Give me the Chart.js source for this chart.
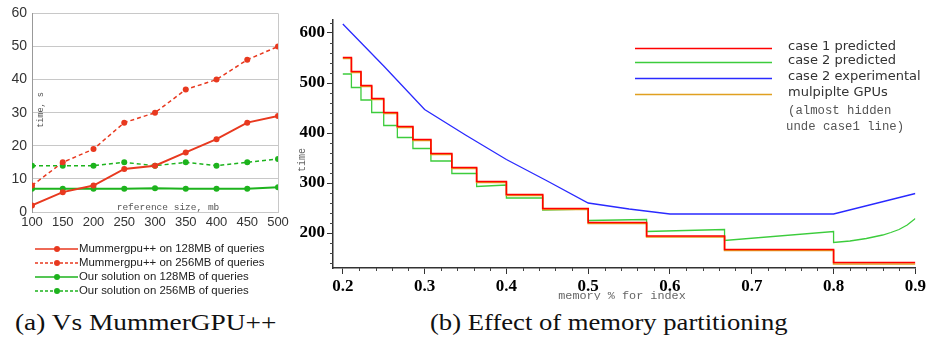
<!DOCTYPE html>
<html>
<head>
<meta charset="utf-8">
<script src="https://cdn.jsdelivr.net/npm/chart.js@4.4.0/dist/chart.umd.min.js"></script>
<style>
  body { margin: 0; background: #fff; width: 928px; height: 343px; position: relative; overflow: hidden; }
  canvas { position: absolute; top: 0; }
  #chartA { left: 0; }
  #chartB { left: 290px; }
  .caption { position: absolute; font-family: "Liberation Serif", "DejaVu Serif", serif; font-size: 24px; color: #111; white-space: nowrap; transform-origin: left top; }
  #capA { left: 15px; top: 309px; transform: scaleX(1.14); }
  #capB { left: 430px; top: 309px; transform: scaleX(1.11); }
</style>
</head>
<body>
<canvas id="chartA" width="300" height="300"></canvas>
<canvas id="chartB" width="638" height="300"></canvas>
<div class="caption" id="capA">(a) Vs MummerGPU++</div>
<div class="caption" id="capB">(b) Effect of memory partitioning</div>
<script>
// (a) reference size vs time
const refSizes = [100, 150, 200, 250, 300, 350, 400, 450, 500];
const mummer128 = [2, 6, 8, 13, 14, 18, 22, 27, 29];
const mummer256 = [8, 15, 19, 27, 30, 37, 40, 46, 50];
const ours128 = [7, 7, 7, 7, 7.2, 7, 7, 7, 7.5];
const ours256 = [14, 14, 14, 15, 14, 15, 14, 15, 16];
const seriesNamesA = [
    'Mummergpu++ on 128MB of queries',
    'Mummergpu++ on 256MB of queries',
    'Our solution on 128MB of queries',
    'Our solution on 256MB of queries'
];

// (b) memory partitioning: step edges and levels
const stepEdges = [0.2, 0.2105, 0.2222, 0.2353, 0.25, 0.2667, 0.2857, 0.3077, 0.3333,
    0.3636, 0.4, 0.4444, 0.5, 0.5714, 0.6667, 0.8, 0.9];
const case1Levels = [551, 523, 495, 469, 441, 413, 387, 359, 331, 303, 277, 249, 221, 194, 167, 141];
const gpuLevels = [549, 521, 493, 467, 439, 411, 385, 357, 329, 301, 275, 247, 219, 192, 165, 138];
const case2Start = [518, 491, 466, 441, 415, 391, 369, 344, 319, 293, 270, 246, 225, 203, 185];
const case2End = [518, 491, 466, 441, 415, 391, 369, 344, 319, 296, 270, 248, 227, 207, 203];
const case2TailX = [0.8, 0.82, 0.84, 0.86, 0.87, 0.88, 0.89, 0.9];
const case2TailY = [181, 184, 189, 196, 201, 207, 216, 229];
const expX = [0.2, 0.25, 0.3, 0.35, 0.4, 0.45, 0.5, 0.55, 0.6, 0.7, 0.8, 0.9];
const expY = [618, 534, 447, 396, 347, 304, 260, 248, 238, 238, 238, 279];
const seriesNamesB = ['case 1 predicted', 'case 2 predicted', 'case 2 experimental', 'mulpiplte GPUs'];

const RED_A = '#e8391f';
const GREEN_A = '#1db31d';
const RED_B = '#ff0000';
const GREEN_B = '#3ccc3c';
const BLUE_B = '#2a2aff';
const ORANGE_B = '#e0a020';

const toPts = (xs, ys) => xs.map((x, i) => ({ x: x, y: ys[i] }));

function lineA(label, values, color, dashed) {
    return {
        label: label,
        data: toPts(refSizes, values),
        borderColor: color,
        backgroundColor: color,
        borderWidth: dashed ? 1.5 : 2,
        borderDash: dashed ? [4, 3] : [],
        pointRadius: 3,
        pointBorderWidth: 0,
        pointBackgroundColor: color
    };
}

const datasetsA = [
    lineA(seriesNamesA[0], mummer128, RED_A, false),
    lineA(seriesNamesA[1], mummer256, RED_A, true),
    lineA(seriesNamesA[2], ours128, GREEN_A, false),
    lineA(seriesNamesA[3], ours256, GREEN_A, true)
];

const extrasA = {
    id: 'extrasA',
    afterDraw(chart) {
        const ctx = chart.ctx;
        ctx.save();
        ctx.fillStyle = '#555';
        ctx.textAlign = 'center';
        ctx.textBaseline = 'middle';
        ctx.font = '9.5px "Liberation Mono", monospace';
        ctx.fillText('reference size, mb', 168, 207);
        ctx.save();
        ctx.translate(41, 110);
        ctx.rotate(-Math.PI / 2);
        ctx.font = '8.5px "Liberation Mono", monospace';
        ctx.fillText('time, s', 0, 0);
        ctx.restore();

        // legend under the plot
        const rows = [249, 263, 277, 291];
        chart.data.datasets.forEach((ds, i) => {
            const y = rows[i];
            ctx.strokeStyle = ds.borderColor;
            ctx.lineWidth = 1.5;
            ctx.setLineDash(ds.borderDash.length ? [3, 2] : []);
            ctx.beginPath();
            ctx.moveTo(35, y);
            ctx.lineTo(78, y);
            ctx.stroke();
            ctx.setLineDash([]);
            ctx.fillStyle = ds.borderColor;
            ctx.beginPath();
            ctx.arc(57, y, 3, 0, Math.PI * 2);
            ctx.fill();
            ctx.fillStyle = '#222';
            ctx.textAlign = 'left';
            ctx.font = '11.4px "Liberation Sans", Arial, sans-serif';
            ctx.fillText(ds.label, 79, y);
        });
        ctx.restore();
    }
};

new Chart(document.getElementById('chartA'), {
    type: 'line',
    data: { datasets: datasetsA },
    options: {
        responsive: false,
        animation: false,
        layout: { padding: { top: 10, right: 22, left: 0, bottom: 0 } },
        plugins: { legend: { display: false }, tooltip: { enabled: false } },
        scales: {
            x: {
                type: 'linear',
                min: 100,
                max: 500,
                ticks: { stepSize: 50, color: '#333', padding: 3, font: { family: 'Liberation Sans', size: 13 } },
                grid: {
                    drawTicks: false,
                    color: (c) => (c.tick && c.tick.value === 500 ? '#c8c8c8' : 'rgba(0,0,0,0)')
                },
                border: { color: '#c8c8c8' },
                afterFit: (scale) => { scale.height = 88; }
            },
            y: {
                min: 0,
                max: 60,
                ticks: { stepSize: 10, color: '#333', padding: 5, font: { family: 'Liberation Sans', size: 14 } },
                grid: { drawTicks: false, color: '#c8c8c8' },
                border: { color: '#999' },
                afterFit: (scale) => { scale.width = 32; }
            }
        }
    },
    plugins: [extrasA]
});

// (b) build the stepped series from edges and levels
const case1Pts = toPts(stepEdges, case1Levels.concat([case1Levels[case1Levels.length - 1]]));
const gpuPts = toPts(stepEdges, gpuLevels.concat([gpuLevels[gpuLevels.length - 1]]));
const case2Pts = [];
case2Start.forEach((v, i) => {
    case2Pts.push({ x: stepEdges[i], y: v });
    case2Pts.push({ x: stepEdges[i + 1], y: case2End[i] });
});
toPts(case2TailX, case2TailY).forEach(p => case2Pts.push(p));

function lineB(label, pts, color, width, stepped) {
    return {
        label: label,
        data: pts,
        borderColor: color,
        backgroundColor: color,
        borderWidth: width,
        pointRadius: 0,
        stepped: stepped,
        tension: 0
    };
}

const datasetsB = [
    lineB(seriesNamesB[0], case1Pts, RED_B, 1.6, true),
    lineB(seriesNamesB[3], gpuPts, ORANGE_B, 1.6, true),
    lineB(seriesNamesB[1], case2Pts, GREEN_B, 1.3, false),
    lineB(seriesNamesB[2], toPts(expX, expY), BLUE_B, 1.3, false)
];

const extrasB = {
    id: 'extrasB',
    afterDraw(chart) {
        const ctx = chart.ctx;
        const xs = chart.scales.x;
        const ys = chart.scales.y;
        const area = chart.chartArea;
        ctx.save();
        // minor ticks
        ctx.strokeStyle = '#444';
        ctx.lineWidth = 1;
        for (let v = 140; v <= 620; v += 20) {
            if (v % 100 === 0) continue;
            const py = Math.round(ys.getPixelForValue(v)) + 0.5;
            ctx.beginPath();
            ctx.moveTo(area.left - 3, py);
            ctx.lineTo(area.left, py);
            ctx.stroke();
        }
        for (let k = 10; k <= 45; k++) {
            if (k % 5 === 0) continue;
            const px = Math.round(xs.getPixelForValue(k / 50)) + 0.5;
            ctx.beginPath();
            ctx.moveTo(px, area.bottom);
            ctx.lineTo(px, area.bottom + 3);
            ctx.stroke();
        }

        // axis titles
        ctx.fillStyle = '#666';
        ctx.textAlign = 'center';
        ctx.textBaseline = 'middle';
        ctx.font = '11.8px "Liberation Mono", monospace';
        ctx.fillText('memory % for index', 332, 296);
        ctx.save();
        ctx.translate(12, 160);
        ctx.rotate(-Math.PI / 2);
        ctx.font = '10px "Liberation Mono", monospace';
        ctx.fillText('time', 0, 0);
        ctx.restore();

        // legend
        const entries = [
            { name: seriesNamesB[0], color: RED_B, y: 48 },
            { name: seriesNamesB[1], color: GREEN_B, y: 62 },
            { name: seriesNamesB[2], color: BLUE_B, y: 78 },
            { name: seriesNamesB[3], color: ORANGE_B, y: 94 }
        ];
        entries.forEach(e => {
            ctx.strokeStyle = e.color;
            ctx.lineWidth = 1.3;
            ctx.beginPath();
            ctx.moveTo(345, e.y + 0.5);
            ctx.lineTo(482, e.y + 0.5);
            ctx.stroke();
            ctx.fillStyle = '#333';
            ctx.textAlign = 'left';
            ctx.font = '13px "DejaVu Sans", sans-serif';
            ctx.fillText(e.name, 498, e.y - 1);
        });
        ctx.fillStyle = '#555';
        ctx.font = '12.3px "Liberation Mono", monospace';
        ctx.fillText('(almost hidden', 498, 111);
        ctx.fillText('unde case1 line)', 496, 127);
        ctx.restore();
    }
};

const boldSerif = { family: '"Liberation Serif", "DejaVu Serif", serif', size: 17, weight: 'bold' };

new Chart(document.getElementById('chartB'), {
    type: 'line',
    data: { datasets: datasetsB },
    options: {
        responsive: false,
        animation: false,
        layout: { padding: { top: 20, right: 11, left: 0, bottom: 0 } },
        plugins: { legend: { display: false }, tooltip: { enabled: false } },
        scales: {
            x: {
                type: 'linear',
                min: 0.188,
                max: 0.9,
                afterBuildTicks: (scale) => {
                    scale.ticks = [0.2, 0.3, 0.4, 0.5, 0.6, 0.7, 0.8, 0.9].map(v => ({ value: v }));
                },
                ticks: { color: '#000', padding: 2, font: boldSerif, callback: (v) => v.toFixed(1) },
                grid: { drawOnChartArea: false, tickLength: 6, color: '#333' },
                border: { color: '#333', width: 1.5 },
                afterFit: (scale) => { scale.height = 32; }
            },
            y: {
                min: 130,
                max: 626,
                afterBuildTicks: (scale) => {
                    scale.ticks = [200, 300, 400, 500, 600].map(v => ({ value: v }));
                },
                ticks: { color: '#000', padding: 2, font: boldSerif },
                grid: { drawOnChartArea: false, tickLength: 6, color: '#333' },
                border: { color: '#333', width: 1.5 },
                afterFit: (scale) => { scale.width = 43; }
            }
        }
    },
    plugins: [extrasB]
});
</script>
</body>
</html>
